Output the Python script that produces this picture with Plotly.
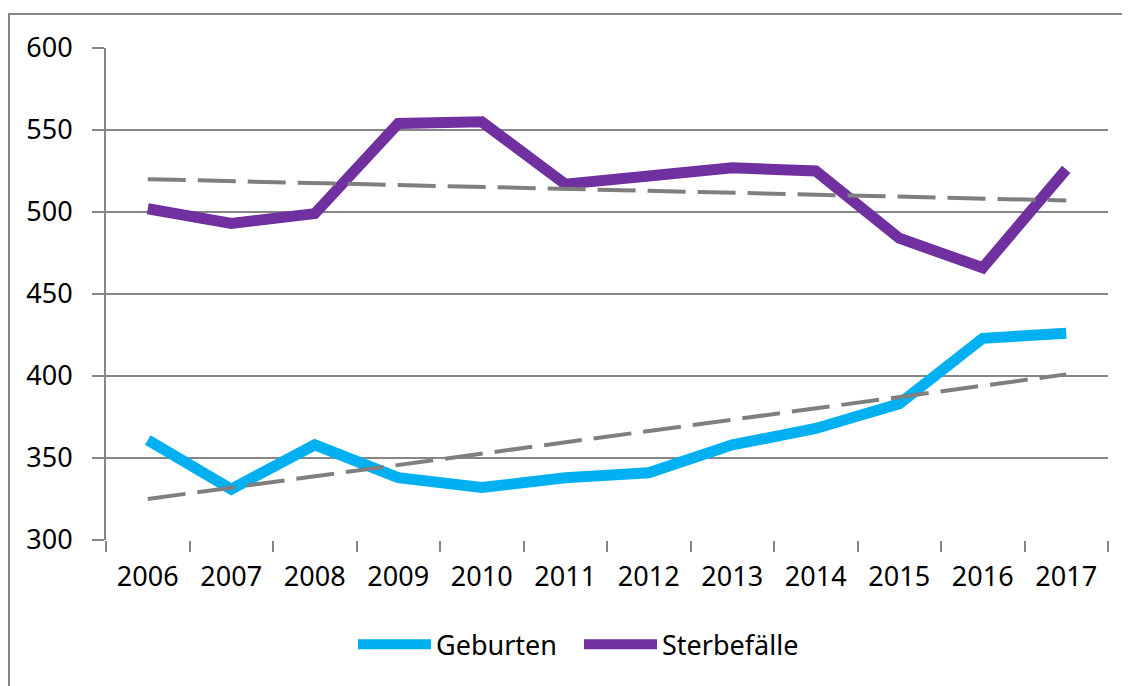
import plotly.graph_objects as go

years = ['2006', '2007', '2008', '2009', '2010', '2011', '2012', '2013', '2014', '2015', '2016', '2017']
geburten = [361, 331, 358, 338, 332, 338, 341, 358, 368, 383, 423, 426]
sterbefaelle = [502, 493, 499, 554, 555, 517, 522, 527, 525, 484, 466, 526]

# trend line end points
trend_years = ['2006', '2017']
trend_geburten = [325, 401]
trend_sterbefaelle = [520, 507]

CYAN = '#00B0F0'
PURPLE = '#7030A0'
GRAY = '#868686'
FONT = 'Noto Sans'

fig = go.Figure()
fig.add_trace(go.Scatter(x=years, y=geburten, mode='lines', name='Geburten',
                         line=dict(color=CYAN, width=11)))
fig.add_trace(go.Scatter(x=years, y=sterbefaelle, mode='lines', name='Sterbefälle',
                         line=dict(color=PURPLE, width=11)))
fig.add_trace(go.Scatter(x=trend_years, y=trend_geburten, mode='lines', showlegend=False,
                         line=dict(color='#7F7F7F', width=4, dash='38px,12px')))
fig.add_trace(go.Scatter(x=trend_years, y=trend_sterbefaelle, mode='lines', showlegend=False,
                         line=dict(color='#7F7F7F', width=4, dash='38px,12px')))

# page body has an 8px margin, so margins are reduced by 8
fig.update_layout(
    width=1130, height=686,
    margin=dict(l=98, r=30, t=40, b=154),
    paper_bgcolor='white', plot_bgcolor='white',
    font=dict(family=FONT, size=27, color='black'),
    showlegend=True,
    legend=dict(orientation='h', x=0.2465, y=-0.213, xanchor='left', yanchor='middle',
                font=dict(size=27), itemwidth=73, entrywidth=138, tracegroupgap=0),
    xaxis=dict(type='category', range=[-0.5, 11.5], tickson='boundaries', ticks='outside',
               ticklen=11, tickcolor=GRAY, tickwidth=2, showgrid=False, showline=False,
               ticklabelstandoff=18, tickfont=dict(size=27), fixedrange=True),
    yaxis=dict(range=[300, 600], dtick=50, ticks='outside', ticklen=12, tickcolor=GRAY,
               tickwidth=2, showgrid=True, gridcolor=GRAY, gridwidth=2,
               showline=True, linecolor=GRAY, linewidth=2, zeroline=False,
               ticklabelstandoff=14, tickfont=dict(size=27)),
)

# outer chart frame
fig.add_shape(type='rect', xref='paper', yref='paper', x0=-0.0968, x1=1.05, y0=-0.32, y1=1.069,
              line=dict(color=GRAY, width=2), fillcolor='rgba(0,0,0,0)', layer='below')

fig.write_html('out.html')
